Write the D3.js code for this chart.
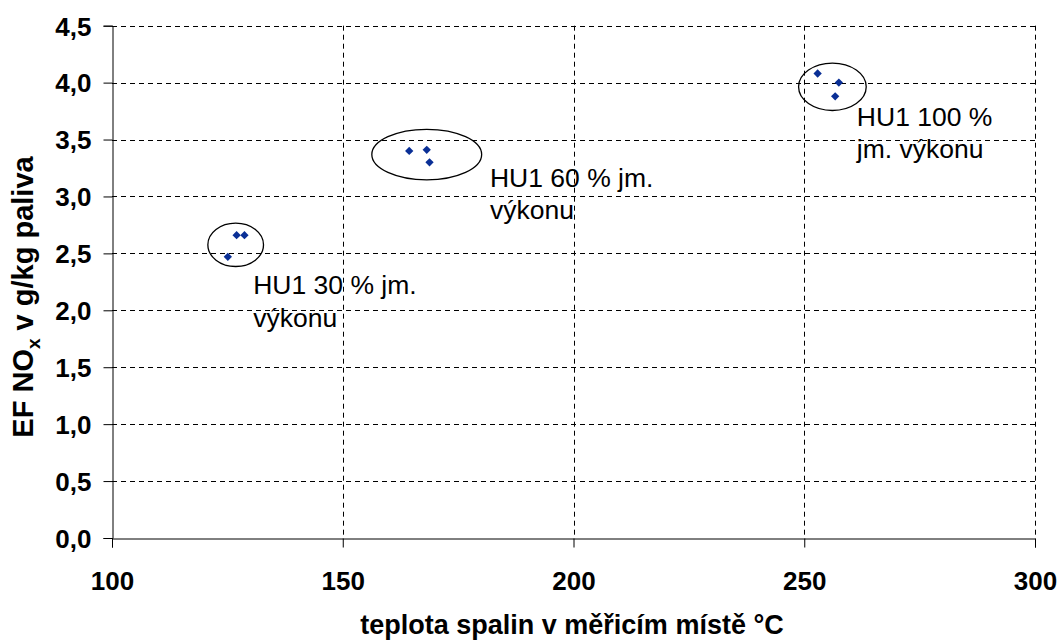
<!DOCTYPE html>
<html>
<head>
<meta charset="utf-8">
<script src="https://cdn.jsdelivr.net/npm/d3@7"></script>
<style>
  html, body { margin: 0; padding: 0; background: #fff; }
  svg { display: block; font-family: "Liberation Sans", Arial, sans-serif; }
</style>
</head>
<body>
<svg id="chart" width="1058" height="640"></svg>
<script>
// Measured points: flue gas temperature (°C) vs. NOx emission factor (g/kg fuel)
const temperature = [125.1, 127.0, 128.7, 164.4, 168.2, 168.8, 252.9, 257.5, 256.7];
const emissionNOx = [2.47, 2.66, 2.66, 3.40, 3.41, 3.30, 4.08, 4.00, 3.88];

// Load-level groups: ellipse centre / radii in data units and label text
const groupCx = [126.8, 168.2, 256.1];
const groupCy = [2.575, 3.368, 3.963];
const groupRx = [6.03, 11.9, 7.33];
const groupRy = [0.19, 0.222, 0.208];
const groupLabels = [
  ["HU1 30 % jm.", "výkonu"],
  ["HU1 60 % jm.", "výkonu"],
  ["HU1 100 %", "jm. výkonu"]
];
const labelX = [130.6, 181.9, 261.4];
const labelY = [2.141, 3.084, 3.62];

const xTicks = [100, 150, 200, 250, 300];
const yTicks = [0, 0.5, 1, 1.5, 2, 2.5, 3, 3.5, 4, 4.5];

const svg = d3.select("#chart");
const plotLeft = 112, plotRight = 1035, plotTop = 25.7, plotBottom = 538;

const x = d3.scaleLinear().domain([100, 300]).range([plotLeft, plotRight]);
const y = d3.scaleLinear().domain([0, 4.5]).range([plotBottom, plotTop]);
const fmt = v => d3.format(".1f")(v).replace(".", ",");

// Dashed grid
const grid = svg.append("g").attr("stroke", "#000").attr("stroke-width", 1)
  .attr("stroke-dasharray", "5,4").attr("fill", "none");
grid.selectAll("line.h").data(yTicks.filter(d => d > 0)).join("line")
  .attr("x1", plotLeft).attr("x2", plotRight)
  .attr("y1", d => Math.round(y(d)) + 0.5).attr("y2", d => Math.round(y(d)) + 0.5);
grid.selectAll("line.v").data(xTicks.filter(d => d > 100)).join("line")
  .attr("y1", plotTop).attr("y2", plotBottom)
  .attr("x1", d => Math.round(x(d)) + 0.5).attr("x2", d => Math.round(x(d)) + 0.5);

// Axes
const yAxis = d3.axisLeft(y).tickValues(yTicks).tickFormat(fmt).tickSize(9).tickPadding(12);
const xAxis = d3.axisBottom(x).tickValues(xTicks).tickFormat(d3.format("d")).tickSize(9).tickPadding(24);

const gy = svg.append("g").attr("transform", `translate(${plotLeft + 0.5},0)`).call(yAxis);
const gx = svg.append("g").attr("transform", `translate(0,${plotBottom + 0.5})`).call(xAxis);
[gx, gy].forEach(g => {
  g.select(".domain").attr("stroke", "#000");
  g.selectAll(".tick line").attr("stroke", "#000");
  g.selectAll(".tick text").attr("fill", "#000")
    .style("font-size", "26px").style("font-weight", "bold")
    .style("font-family", "'Liberation Sans', Arial, sans-serif");
});
gy.selectAll(".tick text").attr("dy", "0.36em");

// Group ellipses
svg.append("g").selectAll("ellipse").data(groupCx).join("ellipse")
  .attr("cx", (d, i) => x(d))
  .attr("cy", (d, i) => y(groupCy[i]))
  .attr("rx", (d, i) => x(d + groupRx[i]) - x(d))
  .attr("ry", (d, i) => y(0) - y(groupRy[i]))
  .attr("fill", "none").attr("stroke", "#000").attr("stroke-width", 1.3);

// Data markers (diamonds)
const sym = d3.symbol().type(d3.symbolDiamond2).size(44);
svg.append("g").selectAll("path").data(temperature).join("path")
  .attr("d", sym)
  .attr("transform", (d, i) => `translate(${x(d)},${y(emissionNOx[i])})`)
  .attr("fill", "#0a2f96");

// Group labels
groupLabels.forEach((lines, i) => {
  const t = svg.append("text")
    .attr("x", x(labelX[i])).attr("y", y(labelY[i]))
    .style("font-size", "26.5px").attr("fill", "#000");
  lines.forEach((ln, j) => {
    t.append("tspan").attr("x", x(labelX[i])).attr("dy", j === 0 ? 0 : 32.4).text(ln);
  });
});

// Axis titles
svg.append("text")
  .attr("x", 572).attr("y", 634)
  .attr("text-anchor", "middle")
  .style("font-size", "27px").style("font-weight", "bold")
  .text("teplota spalin v měřicím místě °C");

const yt = svg.append("text")
  .attr("transform", "translate(33,297) rotate(-90)")
  .attr("text-anchor", "middle")
  .style("font-size", "29px").style("font-weight", "bold");
yt.append("tspan").text("EF NO");
yt.append("tspan").attr("dy", 7).style("font-size", "19px").text("x");
yt.append("tspan").attr("dy", -7).text(" v g/kg paliva");
</script>
</body>
</html>
